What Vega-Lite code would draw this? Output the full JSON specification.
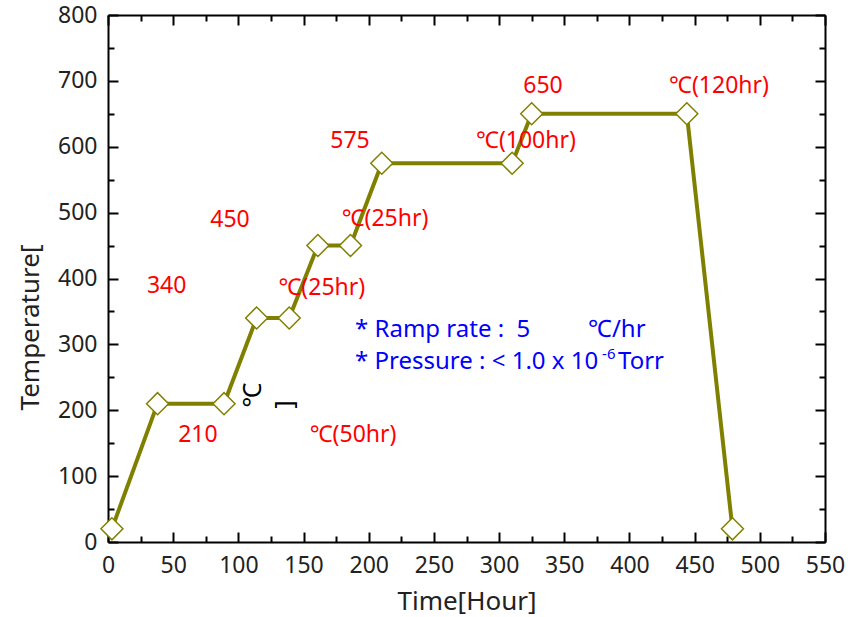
{
  "$schema": "https://vega.github.io/schema/vega-lite/v6.json",
  "width": 717,
  "height": 527,
  "autosize": {"type": "none"},
  "padding": {"left": 108, "top": 15, "right": 29, "bottom": 75},
  "background": "white",
  "config": {
    "view": {"stroke": null},
    "font": "Noto Sans",
    "axis": {
      "domainColor": "black",
      "domainWidth": 2,
      "tickColor": "black",
      "tickWidth": 2,
      "grid": false,
      "labelFont": "Noto Sans",
      "labelFontSize": 23,
      "labelColor": "#222",
      "titleFont": "Noto Sans",
      "titleFontSize": 26,
      "titleFontWeight": "normal",
      "titleColor": "#222",
      "labelFlush": false,
      "labelOverlap": false
    }
  },
  "datasets": {
    "profile": [
      {"hour": 3, "temp": 20},
      {"hour": 38, "temp": 210},
      {"hour": 89, "temp": 210},
      {"hour": 114, "temp": 340},
      {"hour": 139, "temp": 340},
      {"hour": 161, "temp": 450},
      {"hour": 186, "temp": 450},
      {"hour": 210, "temp": 575},
      {"hour": 310, "temp": 575},
      {"hour": 325, "temp": 650},
      {"hour": 444, "temp": 650},
      {"hour": 479, "temp": 20}
    ],
    "red": [
      {"hour": 45, "temp": 388, "label": "340"},
      {"hour": 93.6, "temp": 489, "label": "450"},
      {"hour": 185.6, "temp": 609, "label": "575"},
      {"hour": 333.7, "temp": 692, "label": "650"},
      {"hour": 69, "temp": 162, "label": "210"},
      {"hour": 164, "temp": 385, "label": "℃(25hr)"},
      {"hour": 212.5, "temp": 490, "label": "℃(25hr)"},
      {"hour": 320.6, "temp": 609, "label": "℃(100hr)"},
      {"hour": 468.7, "temp": 692, "label": "℃(120hr)"},
      {"hour": 188, "temp": 162, "label": "℃(50hr)"}
    ],
    "blue": [
      {"hour": 189.5, "temp": 322, "label": "* Ramp rate :\u00a0\u00a05"},
      {"hour": 368.2, "temp": 322, "label": "℃/hr"},
      {"hour": 189.5, "temp": 273, "label": "* Pressure : < 1.0 x 10"},
      {"hour": 391.2, "temp": 273, "label": "Torr"}
    ],
    "sup": [
      {"hour": 379, "temp": 285, "label": "-6"}
    ],
    "rot": [
      {"hour": 111.2, "temp": 223, "label": "℃"},
      {"hour": 135.8, "temp": 209, "label": "]"}
    ]
  },
  "layer": [
    {
      "data": {"name": "profile"},
      "mark": {"type": "line", "color": "#808000", "strokeWidth": 4},
      "encoding": {
        "x": {
          "field": "hour", "type": "quantitative",
          "scale": {"domain": [0, 550], "nice": false, "zero": false},
          "axis": {
            "orient": "bottom",
            "title": "Time[Hour]",
            "titlePadding": 11,
            "values": [0,50,100,150,200,250,300,350,400,450,500,550],
            "tickSize": -10,
            "labelPadding": 22
          }
        },
        "y": {
          "field": "temp", "type": "quantitative",
          "scale": {"domain": [0, 800], "nice": false},
          "axis": {
            "orient": "left",
            "title": "Temperature[",
            "titleAngle": -90,
            "titleX": -78,
            "titleY": 312,
            "titleAlign": "center",
            "titleBaseline": "middle",
            "values": [0,100,200,300,400,500,600,700,800],
            "tickSize": -10,
            "labelPadding": 21
          }
        }
      }
    },
    {
      "data": {"name": "profile"},
      "mark": {"type": "point", "shape": "diamond", "size": 484, "filled": true, "fill": "white", "stroke": "#808000", "strokeWidth": 1.5, "opacity": 1},
      "encoding": {
        "x": {
          "field": "hour", "type": "quantitative",
          "axis": {
            "orient": "top", "title": null, "labels": false,
            "values": [0,50,100,150,200,250,300,350,400,450,500,550],
            "tickSize": -10
          }
        },
        "y": {
          "field": "temp", "type": "quantitative",
          "axis": {
            "orient": "right", "title": null, "labels": false,
            "values": [0,100,200,300,400,500,600,700,800],
            "tickSize": -10
          }
        }
      }
    },
    {
      "data": {"name": "red"},
      "mark": {"type": "text", "color": "#ff0000", "fontSize": 23, "font": "Noto Sans", "align": "center", "baseline": "middle"},
      "encoding": {
        "x": {"field": "hour", "type": "quantitative", "axis": {"orient": "bottom", "title": null, "labels": false, "domain": false, "tickSize": -6, "values": [25,75,125,175,225,275,325,375,425,475,525]}},
        "y": {"field": "temp", "type": "quantitative", "axis": {"orient": "left", "title": null, "labels": false, "domain": false, "tickSize": -6, "values": [50,150,250,350,450,550,650,750]}},
        "text": {"field": "label"}
      }
    },
    {
      "data": {"name": "blue"},
      "mark": {"type": "text", "color": "#0000ff", "fontSize": 24, "font": "Noto Sans", "align": "left", "baseline": "middle"},
      "encoding": {
        "x": {"field": "hour", "type": "quantitative", "axis": {"orient": "top", "title": null, "labels": false, "domain": false, "tickSize": -6, "values": [25,75,125,175,225,275,325,375,425,475,525]}},
        "y": {"field": "temp", "type": "quantitative", "axis": {"orient": "right", "title": null, "labels": false, "domain": false, "tickSize": -6, "values": [50,150,250,350,450,550,650,750]}},
        "text": {"field": "label"}
      }
    },
    {
      "data": {"name": "sup"},
      "mark": {"type": "text", "color": "#0000ff", "fontSize": 15, "font": "Noto Sans", "align": "left", "baseline": "middle"},
      "encoding": {
        "x": {"field": "hour", "type": "quantitative", "axis": null},
        "y": {"field": "temp", "type": "quantitative", "axis": null},
        "text": {"field": "label"}
      }
    },
    {
      "data": {"name": "rot"},
      "mark": {"type": "text", "color": "black", "fontSize": 25, "font": "Noto Sans", "align": "center", "baseline": "middle", "angle": -90},
      "encoding": {
        "x": {"field": "hour", "type": "quantitative", "axis": null},
        "y": {"field": "temp", "type": "quantitative", "axis": null},
        "text": {"field": "label"}
      }
    }
  ],
  "resolve": {"axis": {"x": "independent", "y": "independent"}}
}
